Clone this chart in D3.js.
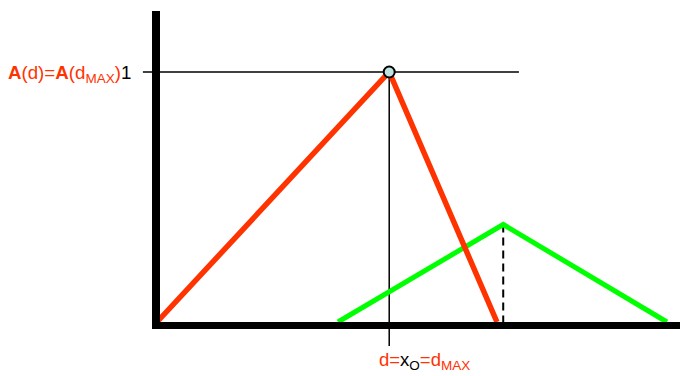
<!DOCTYPE html>
<html><head><meta charset="utf-8">
<script src="https://cdn.jsdelivr.net/npm/d3@7"></script>
<style>body{margin:0;background:#fff}svg{display:block}</style>
</head><body>
<script>
// data (x in arbitrary distance units 0..100, y = A(d) normalised to 1)
const redX = [0, 44.4, 65.0];
const redY = [0, 1, 0];
const greenX = [34.6, 66.2, 97.5];
const greenY = [0, 0.39, 0];
const refLineX = [-2.7, 69.2];   // horizontal level line at A = 1
const yTickLabel = "1";

const W = 680, H = 376;
const svg = d3.select("body").append("svg").attr("width", W).attr("height", H);
const x = d3.scaleLinear().domain([0, 100]).range([157, 680]);
const y = d3.scaleLinear().domain([0, 1]).range([322, 72]);
const RED = "#ff3300", GREEN = "#00ff00";

const line = d3.line().x(d => x(d[0])).y(d => y(d[1]));
const redPts = redX.map((v, i) => [v, redY[i]]);
const greenPts = greenX.map((v, i) => [v, greenY[i]]);

// level line
svg.append("line").attr("x1", x(refLineX[0])).attr("x2", x(refLineX[1]))
  .attr("y1", y(1)).attr("y2", y(1)).attr("stroke", "#000").attr("stroke-width", 1.5);

// vertical line from peak
svg.append("line").attr("x1", x(redX[1])).attr("x2", x(redX[1]))
  .attr("y1", y(1)).attr("y2", 346).attr("stroke", "#000").attr("stroke-width", 1.5);

// dashed line from green peak
svg.append("line").attr("x1", x(greenX[1])).attr("x2", x(greenX[1]))
  .attr("y1", y(greenY[1])).attr("y2", y(0)).attr("stroke", "#000")
  .attr("stroke-width", 2).attr("stroke-dasharray", "8,5");

// series
svg.append("path").attr("d", line(greenPts)).attr("fill", "none")
  .attr("stroke", GREEN).attr("stroke-width", 5);
svg.append("path").attr("d", line(redPts)).attr("fill", "none")
  .attr("stroke", RED).attr("stroke-width", 5.5);

// axes (thick bars)
svg.append("line").attr("x1", x(0) - 1).attr("x2", x(0) - 1).attr("y1", 11).attr("y2", 329)
  .attr("stroke", "#000").attr("stroke-width", 8);
svg.append("line").attr("x1", 155).attr("x2", x(100)).attr("y1", y(0) + 3.5).attr("y2", y(0) + 3.5)
  .attr("stroke", "#000").attr("stroke-width", 7);

// peak marker
svg.append("circle").attr("cx", x(redX[1])).attr("cy", y(1)).attr("r", 5.5)
  .attr("fill", "#c2e2e2").attr("stroke", "#000").attr("stroke-width", 2);

// y label
const t1 = svg.append("text").attr("x", 8).attr("y", y(1) + 6.5)
  .attr("font-family", "Liberation Sans, Arial, sans-serif").attr("font-size", 18.7).attr("fill", RED);
t1.append("tspan").attr("font-weight", "bold").text("A");
t1.append("tspan").text("(d)=");
t1.append("tspan").attr("font-weight", "bold").text("A");
t1.append("tspan").text("(d");
t1.append("tspan").attr("font-size", 13.5).attr("dy", 4).text("MAX");
t1.append("tspan").attr("dy", -4).text(")");
t1.append("tspan").attr("fill", "#000").text(yTickLabel);

// x label
const t2 = svg.append("text").attr("x", 379).attr("y", 366)
  .attr("font-family", "Liberation Sans, Arial, sans-serif").attr("font-size", 18.5).attr("fill", RED);
t2.append("tspan").text("d=");
t2.append("tspan").attr("fill", "#000").text("x");
t2.append("tspan").attr("fill", "#000").attr("font-size", 13.5).attr("dy", 4).text("O");
t2.append("tspan").attr("dy", -4).text("=d");
t2.append("tspan").attr("font-size", 13.5).attr("dy", 4).text("MAX");
</script>
</body></html>
